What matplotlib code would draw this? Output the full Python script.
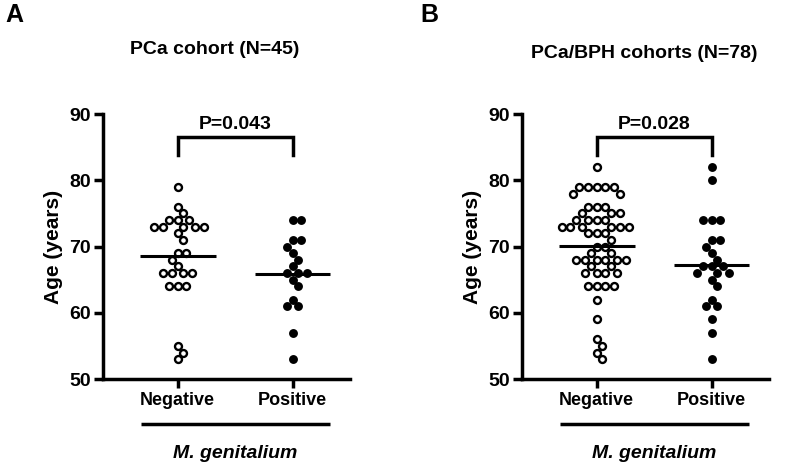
import numpy as np
import matplotlib
matplotlib.use("Agg")
import matplotlib.pyplot as plt

plt.rcParams['font.family'] = ['Liberation Sans', 'DejaVu Sans']
plt.rcParams['font.weight'] = 'bold'

categories = ["Negative", "Positive"]
a_negative = [79, 76, 75, 74, 74, 74, 73, 73, 73, 73, 73, 72, 71, 69, 69, 68, 67,
              66, 66, 66, 66, 64, 64, 64, 55, 54, 53]
a_positive = [74, 74, 71, 71, 70, 69, 68, 67, 66, 66, 66, 65, 64, 62, 61, 61, 57, 53]
b_negative = [82, 79, 79, 79, 79, 79, 78, 78, 76, 76, 76, 75, 75, 75, 74, 74, 74, 74,
              73, 73, 73, 73, 73, 73, 72, 72, 72, 71, 70, 70, 69, 69,
              68, 68, 68, 68, 68, 68, 67, 67, 66, 66, 66, 66, 64, 64, 64, 64,
              62, 59, 56, 55, 54, 53]
b_positive = [82, 80, 74, 74, 74, 71, 71, 70, 69, 68, 67, 67, 67, 66, 66, 66, 65, 64,
              62, 61, 61, 59, 57, 53]
titles = ["PCa cohort (N=45)", "PCa/BPH cohorts (N=78)"]
pvalues = ["P=0.043", "P=0.028"]
panel_letters = ["A", "B"]
yticks = [50, 60, 70, 80, 90]

W, H = 790, 467
fig = plt.figure(figsize=(W / 100, H / 100), dpi=100)

def swarm_offsets(ax, x0, values, diam_px):
    """Greedy beeswarm in display space; returns x data coords."""
    trans = ax.transData
    inv = trans.inverted()
    placed = []
    xs = []
    cx, _ = trans.transform((x0, 0))
    for v in values:
        _, py = trans.transform((x0, v))
        cands = [cx]
        for (qx, qy) in placed:
            dy = abs(qy - py)
            if dy < diam_px:
                dx = np.sqrt(diam_px ** 2 - dy ** 2) + 0.01
                cands += [qx + dx, qx - dx]
        cands.sort(key=lambda c: abs(c - cx))
        for c in cands:
            ok = all((c - qx) ** 2 + (py - qy) ** 2 >= diam_px ** 2 - 0.05 for qx, qy in placed)
            if ok:
                break
        placed.append((c, py))
        xs.append(inv.transform((c, py))[0])
    return xs

panels = [
    (103, a_negative, a_positive),
    (522, b_negative, b_positive),
]
ax_w = 247
for k, (left_px, neg, pos) in enumerate(panels):
    ax = fig.add_axes([left_px / W, 1 - 379 / H, ax_w / W, (379 - 114) / H])
    ax.set_xlim(-0.65, 1.5)
    ax.set_ylim(50, 90)
    for s in ['top', 'right']:
        ax.spines[s].set_visible(False)
    for s in ['left', 'bottom']:
        ax.spines[s].set_linewidth(2.5)
    ax.set_yticks(yticks)
    ax.set_yticklabels([str(t) for t in yticks], fontsize=14, fontweight='bold')
    ax.set_xticks([0, 1])
    ax.set_xticklabels(categories, fontsize=13, fontweight='bold')
    ax.tick_params(axis='both', width=2.5, length=6.5)
    ax.tick_params(axis='y', pad=2)
    ax.tick_params(axis='x', pad=3)
    ax.set_ylabel("Age (years)", fontsize=15, fontweight='bold', labelpad=5)

    fig.canvas.draw()
    diam = 8.8
    for x0, vals, filled in [(0, neg, False), (1, pos, True)]:
        order = sorted(vals, key=lambda v: -v)
        xs = swarm_offsets(ax, x0, order, diam)
        if filled:
            ax.plot(xs, order, 'o', ms=6.4, mfc='black', mec='black', mew=0,
                    ls='none', clip_on=False, zorder=3)
        else:
            ax.plot(xs, order, 'o', ms=5.0, mfc='white', mec='black', mew=1.7,
                    ls='none', clip_on=False, zorder=3)
        m = np.mean(vals)
        ax.plot([x0 - 0.33, x0 + 0.33], [m, m], color='black', lw=2.2, zorder=4,
                solid_capstyle='butt')

    ax.plot([0, 0, 1, 1], [83.8, 86.6, 86.6, 83.8], color='black', lw=2.5,
            clip_on=False, solid_joinstyle='miter')
    ax.text(0.5, 87.1, pvalues[k], ha='center', va='bottom', fontsize=14,
            fontweight='bold')

    ax.plot([-0.32, 1.33], [43.2, 43.2], color='black', lw=2.5, clip_on=False,
            solid_capstyle='butt')
    ax.text(0.5, 38.8, "M. genitalium", ha='center', va='center', fontsize=14,
            fontweight='bold', fontstyle='italic')

    title_x = 215 / W if k == 0 else 644 / W
    title_y = 50 if k == 0 else 54
    fig.text(title_x, 1 - title_y / H, titles[k], ha='center', va='center',
             fontsize=14, fontweight='bold')
    fig.text((left_px - 98) / W if k == 0 else (left_px - 102) / W, 1 - 15 / H,
             panel_letters[k], ha='left', va='center', fontsize=18, fontweight='bold')

fig.savefig("out.png", dpi=100)
